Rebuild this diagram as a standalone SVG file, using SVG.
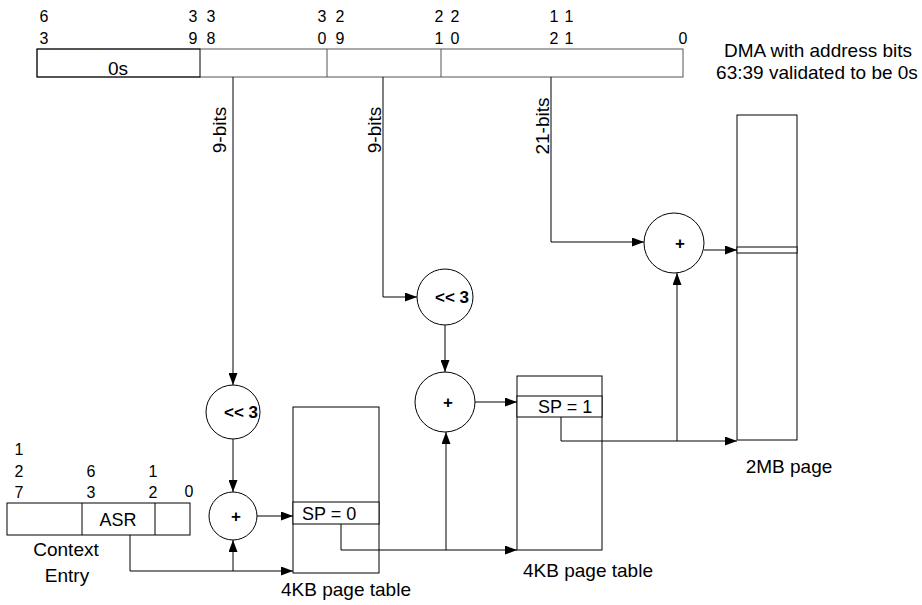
<svg xmlns="http://www.w3.org/2000/svg" width="922" height="605" viewBox="0 0 922 605">
<defs>
<marker id="ah" markerWidth="13" markerHeight="9" refX="12" refY="4.5" orient="auto" markerUnits="userSpaceOnUse">
<path d="M0,0 L12,4.5 L0,9 z" fill="#000"/>
</marker>
<style>
text{font-family:"Liberation Sans",Arial,sans-serif;fill:#000}
.lbl{font-size:19px}
.sp{font-size:18px}
.bit{font-size:16px;text-anchor:middle}
.op{font-size:17px;font-weight:bold}
.box{fill:#fff;stroke:#000;stroke-width:1}
.gbox{fill:none;stroke:#555;stroke-width:1}
.circ{fill:#fff;stroke:#000;stroke-width:1}
.conn path{fill:none;stroke:#000;stroke-width:1}
</style>
</defs>
<rect width="922" height="605" fill="#fff"/>

<g id="address">
<rect class="gbox" x="37" y="49" width="646" height="28"/>
<rect x="37" y="49" width="163" height="28" fill="none" stroke="#000"/>
<line x1="327" y1="49" x2="327" y2="77" stroke="#555"/>
<line x1="441" y1="49" x2="441" y2="77" stroke="#555"/>
<text class="lbl" x="118" y="75" text-anchor="middle">0s</text>
<text class="bit" x="44" y="22">6</text><text class="bit" x="44" y="44">3</text>
<text class="bit" x="193" y="22">3</text><text class="bit" x="193" y="44">9</text>
<text class="bit" x="211" y="22">3</text><text class="bit" x="211" y="44">8</text>
<text class="bit" x="322" y="22">3</text><text class="bit" x="322" y="44">0</text>
<text class="bit" x="340" y="22">2</text><text class="bit" x="340" y="44">9</text>
<text class="bit" x="439" y="22">2</text><text class="bit" x="439" y="44">1</text>
<text class="bit" x="455" y="22">2</text><text class="bit" x="455" y="44">0</text>
<text class="bit" x="554" y="22">1</text><text class="bit" x="554" y="44">2</text>
<text class="bit" x="569" y="22">1</text><text class="bit" x="569" y="44">1</text>
<text class="bit" x="683" y="44">0</text>
<text class="lbl" x="818" y="57" text-anchor="middle">DMA with address bits</text>
<text class="lbl" x="817" y="79" text-anchor="middle">63:39 validated to be 0s</text>
</g>

<g id="context-entry">
<rect class="box" x="7" y="503" width="183" height="32"/>
<line x1="82" y1="503" x2="82" y2="535" stroke="#000"/>
<line x1="155" y1="503" x2="155" y2="535" stroke="#000"/>
<text class="sp" x="118" y="526" text-anchor="middle">ASR</text>
<text class="bit" x="19" y="455">1</text>
<text class="bit" x="19" y="477">2</text>
<text class="bit" x="19" y="498">7</text>
<text class="bit" x="91" y="477">6</text>
<text class="bit" x="91" y="498">3</text>
<text class="bit" x="153" y="477">1</text>
<text class="bit" x="153" y="498">2</text>
<text class="bit" x="189" y="497">0</text>
<text class="lbl" x="66" y="556" text-anchor="middle">Context</text>
<text class="lbl" x="67" y="582" text-anchor="middle">Entry</text>
</g>

<g id="shift1">
<circle class="circ" cx="233" cy="412" r="27"/>
<text class="op" x="241" y="418" text-anchor="middle">&lt;&lt; 3</text>
</g>
<g id="shift2">
<circle class="circ" cx="445" cy="297" r="28"/>
<text class="op" x="452" y="303" text-anchor="middle">&lt;&lt; 3</text>
</g>
<g id="add1">
<circle class="circ" cx="233" cy="516" r="24"/>
<text class="op" x="236" y="522" text-anchor="middle">+</text>
</g>
<g id="add2">
<circle class="circ" cx="445" cy="402" r="30"/>
<text class="op" x="448" y="408" text-anchor="middle">+</text>
</g>
<g id="add3">
<circle class="circ" cx="674" cy="243" r="30"/>
<text class="op" x="680" y="249" text-anchor="middle">+</text>
</g>

<g id="table1">
<rect class="box" x="293" y="407" width="86" height="166"/>
<rect class="box" x="293" y="502" width="86" height="22"/>
<text class="sp" x="302" y="520">SP = 0</text>
<text class="lbl" x="346" y="596" text-anchor="middle">4KB page table</text>
</g>
<g id="table2">
<rect class="box" x="517" y="376" width="85" height="174"/>
<rect class="box" x="517" y="396" width="85" height="21"/>
<text class="sp" x="538" y="413">SP = 1</text>
<text class="lbl" x="588" y="577" text-anchor="middle">4KB page table</text>
</g>
<g id="page2mb">
<rect class="box" x="737" y="115" width="60" height="325"/>
<rect class="box" x="737" y="247" width="60" height="6"/>
<text class="lbl" x="789" y="473" text-anchor="middle">2MB page</text>
</g>

<g class="conn" id="connectors">
<path d="M233,77 V385" marker-end="url(#ah)"/>
<path d="M383,77 V297 H417" marker-end="url(#ah)"/>
<path d="M551,77 V242 H644" marker-end="url(#ah)"/>
<path d="M233,439 V492" marker-end="url(#ah)"/>
<path d="M445,325 V372" marker-end="url(#ah)"/>
<path d="M257,516 H293" marker-end="url(#ah)"/>
<path d="M130,535 V571 H293" marker-end="url(#ah)"/>
<path d="M233,571 V540" marker-end="url(#ah)"/>
<path d="M341,524 V550 H517" marker-end="url(#ah)"/>
<path d="M446,550 V432" marker-end="url(#ah)"/>
<path d="M475,402 H517" marker-end="url(#ah)"/>
<path d="M561,417 V441 H737" marker-end="url(#ah)"/>
<path d="M677,441 V273" stroke-width="2" marker-end="url(#ah)"/>
<path d="M704,250 H737" marker-end="url(#ah)"/>
<g transform="translate(226,130) rotate(-90)"><text class="lbl" text-anchor="middle">9-bits</text></g>
<g transform="translate(381,130) rotate(-90)"><text class="lbl" text-anchor="middle">9-bits</text></g>
<g transform="translate(549,126) rotate(-90)"><text class="lbl" text-anchor="middle">21-bits</text></g>
</g>
</svg>
